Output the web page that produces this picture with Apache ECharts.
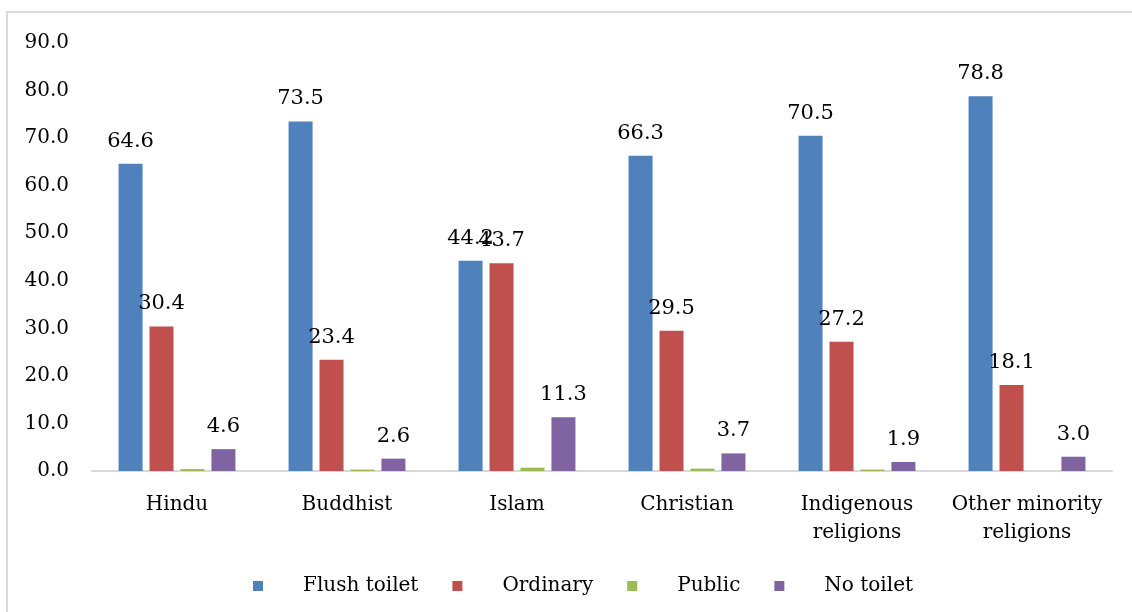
<!DOCTYPE html>
<html>
<head>
<meta charset="utf-8">
<script src="https://cdn.jsdelivr.net/npm/echarts@6/dist/echarts.min.js"></script>
<style>
  html, body { margin: 0; padding: 0; background: #ffffff; }
  #chart { width: 1132px; height: 612px; }
</style>
</head>
<body>
<div id="chart"></div>
<script>
// Toilet facility type by religion (%)
const categories = ['Hindu', 'Buddhist', 'Islam', 'Christian', 'Indigenous\nreligions', 'Other minority\nreligions'];
const flushToilet = [64.6, 73.5, 44.2, 66.3, 70.5, 78.8];
const ordinary = [30.4, 23.4, 43.7, 29.5, 27.2, 18.1];
const publicToilet = [0.4, 0.3, 0.7, 0.5, 0.3, 0.0];
const noToilet = [4.6, 2.6, 11.3, 3.7, 1.9, 3.0];
const yTicks = { min: 0, max: 90, interval: 10 };

const FONT = 'DejaVu Serif';

function barSeries(name, data, color, showLabel) {
  return {
    name: name,
    type: 'bar',
    data: data,
    barWidth: 24,
    barGap: '29%',
    itemStyle: { color: color },
    label: {
      show: showLabel,
      position: 'top',
      distance: 12,
      fontFamily: FONT,
      fontSize: 21,
      color: '#000000',
      formatter: p => p.value.toFixed(1)
    }
  };
}

const chart = echarts.init(document.getElementById('chart'), null, { renderer: 'canvas' });
chart.setOption({
  backgroundColor: '#ffffff',
  animation: false,
  graphic: [{
    type: 'rect',
    shape: { x: 7, y: 12, width: 1140, height: 620 },
    style: { fill: 'none', stroke: '#d9d9d9', lineWidth: 2 },
    silent: true
  }],
  grid: { left: 92, right: 20, top: 43, bottom: 141, containLabel: false },
  legend: {
    left: 248,
    top: 571,
    itemWidth: 10,
    itemHeight: 10,
    itemGap: 34,
    icon: 'rect',
    textStyle: {
      fontFamily: FONT,
      fontSize: 20,
      color: '#000000',
      padding: [0, 0, 0, 35]
    },
    data: ['Flush toilet', 'Ordinary', 'Public', 'No toilet']
  },
  xAxis: {
    type: 'category',
    data: categories,
    axisLine: { show: true, lineStyle: { color: '#d9d9d9', width: 2 } },
    axisTick: { show: false },
    axisLabel: {
      interval: 0,
      margin: 20,
      fontFamily: FONT,
      fontSize: 20,
      lineHeight: 28,
      color: '#000000'
    },
    splitLine: { show: false }
  },
  yAxis: {
    type: 'value',
    min: yTicks.min,
    max: yTicks.max,
    interval: yTicks.interval,
    axisLine: { show: false },
    axisTick: { show: false },
    splitLine: { show: false },
    axisLabel: {
      margin: 23,
      fontFamily: FONT,
      fontSize: 20,
      color: '#000000',
      formatter: v => v.toFixed(1)
    }
  },
  series: [
    barSeries('Flush toilet', flushToilet, '#4F81BD', true),
    barSeries('Ordinary', ordinary, '#C0504D', true),
    barSeries('Public', publicToilet, '#9BBB59', false),
    barSeries('No toilet', noToilet, '#8064A2', true)
  ]
});
</script>
</body>
</html>
